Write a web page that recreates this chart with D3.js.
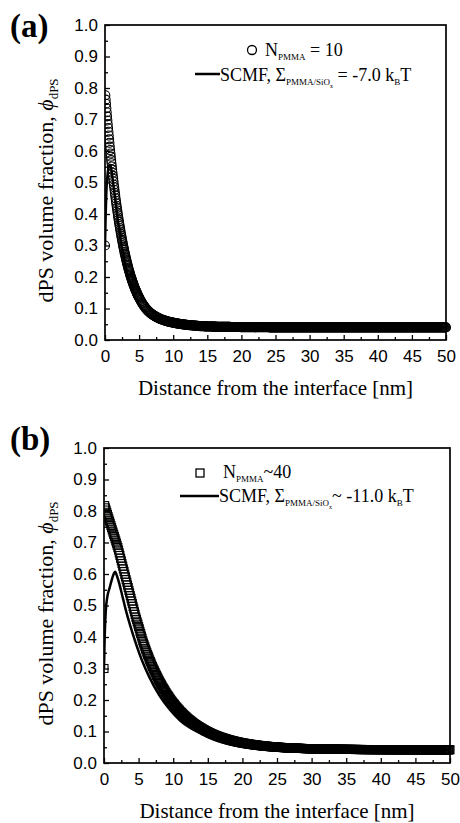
<!DOCTYPE html>
<html>
<head>
    <script type="text/javascript" src="https://d3js.org/d3.v7.min.js"></script>
    <style>
        body { margin: 0; background: #ffffff; }
        .tick text { font-family: "Liberation Sans", Arial, sans-serif; font-size: 17px; fill: #000; }
        .serif { font-family: "Liberation Serif", "Times New Roman", serif; fill: #000; }
    </style>
</head>
<body>
    <svg width="460" height="823"></svg>

    <script>
        // axis ticks shared by both panels
        const xMajor = [0, 5, 10, 15, 20, 25, 30, 35, 40, 45, 50];
        const xMinor = [2.5, 7.5, 12.5, 17.5, 22.5, 27.5, 32.5, 37.5, 42.5, 47.5];
        const yMajor = [0, 0.1, 0.2, 0.3, 0.4, 0.5, 0.6, 0.7, 0.8, 0.9, 1.0];
        const yMinor = [0.05, 0.15, 0.25, 0.35, 0.45, 0.55, 0.65, 0.75, 0.85, 0.95];

        // (a) circles, N_PMMA = 10
        // x = 0 .. 5 nm, every 0.05 nm
        const aCirc1 = [0.300,0.777,0.763,0.750,0.736,0.723,0.710,0.697,0.685,0.673,
            0.661,0.649,0.637,0.626,0.614,0.603,0.592,0.582,0.571,0.561,
            0.551,0.541,0.531,0.521,0.512,0.503,0.493,0.485,0.476,0.467,
            0.459,0.450,0.442,0.434,0.426,0.419,0.411,0.404,0.396,0.389,
            0.382,0.375,0.368,0.362,0.355,0.349,0.342,0.336,0.330,0.324,
            0.318,0.313,0.307,0.301,0.296,0.291,0.286,0.280,0.275,0.271,
            0.266,0.261,0.256,0.252,0.247,0.243,0.239,0.235,0.230,0.226,
            0.222,0.219,0.215,0.211,0.207,0.204,0.200,0.197,0.194,0.190,
            0.187,0.184,0.181,0.178,0.175,0.172,0.169,0.166,0.163,0.161,
            0.158,0.156,0.153,0.151,0.148,0.146,0.143,0.141,0.139,0.137,0.135];
        // x = 5.1 .. 15 nm, every 0.1 nm
        const aCirc2 = [0.131,0.127,0.123,0.119,0.116,0.112,0.109,0.106,0.103,0.100,
            0.098,0.095,0.093,0.091,0.089,0.087,0.085,0.083,0.082,0.080,
            0.079,0.077,0.076,0.075,0.074,0.072,0.071,0.070,0.069,0.068,
            0.067,0.066,0.065,0.0645,0.064,0.063,0.062,0.0615,0.061,0.060,
            0.0594,0.0589,0.0583,0.0578,0.0573,0.0568,0.0564,0.0559,0.0554,0.0550,
            0.0545,0.0541,0.0537,0.0533,0.0528,0.0525,0.0521,0.0517,0.0514,0.0510,
            0.0507,0.0503,0.0500,0.0497,0.0494,0.0491,0.0488,0.0485,0.0483,0.0480,
            0.0478,0.0475,0.0473,0.0471,0.0469,0.0467,0.0465,0.0464,0.0462,0.0460,
            0.0458,0.0456,0.0454,0.0452,0.0450,0.0448,0.0446,0.0444,0.0442,0.0440,
            0.0439,0.0438,0.0437,0.0436,0.0435,0.0434,0.0433,0.0432,0.0431,0.0430];
        // x = 15.1 .. 50 nm, every 0.1 nm
        const aCirc3 = [0.0429,0.0429,0.0428,0.0428,0.0427,0.0427,0.0426,0.0426,0.0425,0.0425,
            0.0424,0.0424,0.0423,0.0423,0.0422,0.0422,0.0421,0.0421,0.0420,0.0420,
            0.0420,0.0419,0.0419,0.0419,0.0418,0.0418,0.0418,0.0417,0.0417,0.0417,
            0.0416,0.0416,0.0416,0.0415,0.0415,0.0415,0.0414,0.0414,0.0414,0.0413,
            0.0413,0.0413,0.0412,0.0412,0.0412,0.0411,0.0411,0.0411,0.0410,0.0410,
            0.041,0.041,0.041,0.041,0.041,0.041,0.041,0.041,0.041,0.041,
            0.041,0.041,0.041,0.041,0.041,0.041,0.041,0.041,0.041,0.041,
            0.0405,0.0405,0.0405,0.0405,0.0405,0.0405,0.0405,0.0405,0.0405,0.0405,
            0.0405,0.0405,0.0405,0.0405,0.0405,0.0405,0.0405,0.0405,0.0405,0.0405,
            0.04,0.04,0.04,0.04,0.04,0.04,0.04,0.04,0.04,0.04,
            0.04,0.04,0.04,0.04,0.04,0.04,0.04,0.04,0.04,0.04,
            0.04,0.04,0.04,0.04,0.04,0.04,0.04,0.04,0.04,0.04,
            0.04,0.04,0.04,0.04,0.04,0.04,0.04,0.04,0.04,0.04,
            0.04,0.04,0.04,0.04,0.04,0.04,0.04,0.04,0.04,0.04,
            0.04,0.04,0.04,0.04,0.04,0.04,0.04,0.04,0.04,0.04,
            0.04,0.04,0.04,0.04,0.04,0.04,0.04,0.04,0.04,0.04,
            0.04,0.04,0.04,0.04,0.04,0.04,0.04,0.04,0.04,0.04,
            0.04,0.04,0.04,0.04,0.04,0.04,0.04,0.04,0.04,0.04,
            0.04,0.04,0.04,0.04,0.04,0.04,0.04,0.04,0.04,0.04,
            0.04,0.04,0.04,0.04,0.04,0.04,0.04,0.04,0.04,0.04,
            0.04,0.04,0.04,0.04,0.04,0.04,0.04,0.04,0.04,0.04,
            0.04,0.04,0.04,0.04,0.04,0.04,0.04,0.04,0.04,0.04,
            0.04,0.04,0.04,0.04,0.04,0.04,0.04,0.04,0.04,0.04,
            0.04,0.04,0.04,0.04,0.04,0.04,0.04,0.04,0.04,0.04,
            0.04,0.04,0.04,0.04,0.04,0.04,0.04,0.04,0.04,0.04,
            0.04,0.04,0.04,0.04,0.04,0.04,0.04,0.04,0.04,0.04,
            0.04,0.04,0.04,0.04,0.04,0.04,0.04,0.04,0.04,0.04,
            0.04,0.04,0.04,0.04,0.04,0.04,0.04,0.04,0.04,0.04,
            0.04,0.04,0.04,0.04,0.04,0.04,0.04,0.04,0.04,0.04,
            0.04,0.04,0.04,0.04,0.04,0.04,0.04,0.04,0.04,0.04,
            0.04,0.04,0.04,0.04,0.04,0.04,0.04,0.04,0.04,0.04,
            0.04,0.04,0.04,0.04,0.04,0.04,0.04,0.04,0.04,0.04,
            0.04,0.04,0.04,0.04,0.04,0.04,0.04,0.04,0.04,0.04,
            0.04,0.04,0.04,0.04,0.04,0.04,0.04,0.04,0.04,0.04,
            0.04,0.04,0.04,0.04,0.04,0.04,0.04,0.04,0.04,0.04];

        // (a) SCMF line
        const aLineX = [0, 0.1, 0.2, 0.35, 0.5, 0.73, 0.9, 1.1, 1.3, 1.6, 2.0, 2.5, 3.0, 3.5, 4.0, 5.0, 6.0, 7.0, 8.0, 10, 12, 15, 20, 30, 50];
        const aLineY = [0.30, 0.40, 0.47, 0.52, 0.545, 0.556, 0.545, 0.515, 0.48, 0.43, 0.36, 0.29, 0.235, 0.19, 0.155, 0.11, 0.083, 0.066, 0.056, 0.047, 0.043, 0.041, 0.040, 0.040, 0.040];

        // (b) squares, N_PMMA ~ 40
        // x = 0 .. 20 nm, every 0.1 nm
        const bSq1 = [0.300,0.817,0.810,0.803,0.796,0.789,0.782,0.775,0.768,0.761,
            0.754,0.747,0.740,0.733,0.726,0.719,0.712,0.705,0.698,0.691,
            0.684,0.676,0.667,0.659,0.650,0.642,0.633,0.625,0.616,0.608,
            0.599,0.591,0.582,0.574,0.565,0.557,0.548,0.540,0.531,0.523,
            0.514,0.506,0.497,0.489,0.480,0.472,0.463,0.456,0.448,0.441,
            0.433,0.426,0.418,0.411,0.403,0.396,0.388,0.381,0.375,0.369,
            0.362,0.356,0.350,0.344,0.339,0.333,0.327,0.322,0.317,0.311,
            0.306,0.301,0.296,0.292,0.287,0.282,0.278,0.273,0.269,0.264,
            0.260,0.256,0.252,0.248,0.244,0.240,0.236,0.233,0.229,0.225,
            0.222,0.218,0.215,0.212,0.209,0.205,0.202,0.199,0.196,0.193,
            0.190,0.188,0.185,0.182,0.179,0.177,0.174,0.172,0.169,0.167,
            0.164,0.162,0.160,0.158,0.155,0.153,0.151,0.149,0.147,0.145,
            0.143,0.141,0.139,0.137,0.136,0.134,0.132,0.130,0.129,0.127,
            0.125,0.124,0.122,0.121,0.119,0.118,0.116,0.115,0.114,0.112,
            0.111,0.110,0.108,0.107,0.106,0.105,0.103,0.102,0.101,0.100,
            0.099,0.0976,0.0966,0.0955,0.0945,0.0935,0.0925,0.0916,0.0906,0.0897,
            0.0888,0.0879,0.0870,0.0862,0.0853,0.0845,0.0837,0.0829,0.0821,0.0814,
            0.0806,0.0799,0.0792,0.0785,0.0778,0.0771,0.0764,0.0758,0.0751,0.0745,
            0.0739,0.0733,0.0727,0.0721,0.0715,0.0710,0.0704,0.0699,0.0693,0.0688,
            0.0683,0.0678,0.0673,0.0668,0.0664,0.0659,0.0654,0.0650,0.0646,0.0641,0.0637];
        // x = 20.1 .. 50 nm, every 0.1 nm
        const bSq2 = [0.0633,0.0629,0.0626,0.0622,0.0618,0.0614,0.0610,0.0607,0.0603,0.0599,
            0.0596,0.0593,0.0590,0.0587,0.0584,0.0580,0.0577,0.0574,0.0571,0.0568,
            0.0565,0.0563,0.0560,0.0558,0.0555,0.0552,0.0550,0.0547,0.0545,0.0542,
            0.0540,0.0538,0.0536,0.0534,0.0532,0.0529,0.0527,0.0525,0.0523,0.0521,
            0.0519,0.0517,0.0516,0.0514,0.0512,0.0510,0.0508,0.0507,0.0505,0.0503,
            0.0502,0.0500,0.0499,0.0497,0.0496,0.0494,0.0493,0.0491,0.0490,0.0488,
            0.0487,0.0486,0.0484,0.0483,0.0482,0.0481,0.0480,0.0478,0.0477,0.0476,
            0.0475,0.0474,0.0473,0.0472,0.0472,0.0471,0.0470,0.0469,0.0468,0.0467,
            0.0466,0.0465,0.0464,0.0463,0.0463,0.0462,0.0461,0.0460,0.0459,0.0458,
            0.0457,0.0457,0.0456,0.0456,0.0455,0.0454,0.0454,0.0453,0.0453,0.0452,
            0.0451,0.0451,0.0450,0.0450,0.0449,0.0449,0.0448,0.0447,0.0447,0.0446,
            0.0446,0.0445,0.0445,0.0445,0.0444,0.0444,0.0443,0.0443,0.0442,0.0442,
            0.0442,0.0441,0.0441,0.0440,0.0440,0.0440,0.0439,0.0439,0.0438,0.0438,
            0.0438,0.0437,0.0437,0.0437,0.0436,0.0436,0.0436,0.0435,0.0435,0.0435,
            0.0435,0.0434,0.0434,0.0434,0.0433,0.0433,0.0433,0.0433,0.0432,0.0432,
            0.0432,0.0432,0.0431,0.0431,0.0431,0.0431,0.0431,0.0430,0.0430,0.0430,
            0.0430,0.0430,0.0429,0.0429,0.0429,0.0429,0.0429,0.0428,0.0428,0.0428,
            0.0428,0.0428,0.0428,0.0428,0.0427,0.0427,0.0427,0.0427,0.0427,0.0427,
            0.0427,0.0427,0.0427,0.0426,0.0426,0.0426,0.0426,0.0426,0.0426,0.0426,
            0.0426,0.0426,0.0426,0.0425,0.0425,0.0425,0.0425,0.0425,0.0425,0.0425,
            0.0425,0.0425,0.0425,0.0425,0.0425,0.0424,0.0424,0.0424,0.0424,0.0424,
            0.0424,0.0424,0.0424,0.0424,0.0424,0.0423,0.0423,0.0423,0.0423,0.0423,
            0.0423,0.0423,0.0423,0.0423,0.0423,0.0423,0.0423,0.0423,0.0423,0.0423,
            0.0423,0.0423,0.0423,0.0423,0.0423,0.0422,0.0422,0.0422,0.0422,0.0422,
            0.0422,0.0422,0.0422,0.0422,0.0422,0.0422,0.0422,0.0422,0.0422,0.0422,
            0.0422,0.0422,0.0422,0.0422,0.0422,0.0422,0.0422,0.0422,0.0422,0.0422,
            0.0421,0.0421,0.0421,0.0421,0.0421,0.0421,0.0421,0.0421,0.0421,0.0421,
            0.0421,0.0421,0.0421,0.0421,0.0421,0.0421,0.0421,0.0421,0.0421,0.0421,
            0.0421,0.0421,0.0421,0.0421,0.0421,0.0421,0.0421,0.0421,0.0421,0.0421,
            0.0421,0.0421,0.0421,0.0421,0.0421,0.0421,0.0421,0.0421,0.0421,0.0421];

        // (b) SCMF line
        const bLineX = [0, 0.1, 0.25, 0.5, 0.8, 1.1, 1.4, 1.6, 1.9, 2.2, 2.6, 3.1, 3.8, 4.6, 5.5, 6.5, 8.0, 9.5, 11, 13, 15, 17.5, 20, 25, 30, 40, 50];
        const bLineY = [0.30, 0.40, 0.48, 0.53, 0.555, 0.58, 0.60, 0.607, 0.592, 0.57, 0.535, 0.49, 0.435, 0.38, 0.325, 0.275, 0.215, 0.170, 0.135, 0.105, 0.086, 0.070, 0.060, 0.049, 0.044, 0.042, 0.042];

        // turn the sampled segments into [x, y] points
        function seg(values, x0, step) {
            return values.map((v, i) => [x0 + i * step, v]);
        }
        const aCircles = seg(aCirc1, 0, 0.05).concat(seg(aCirc2, 5.1, 0.1), seg(aCirc3, 15.1, 0.1));
        const bSquares = seg(bSq1, 0, 0.1).concat(seg(bSq2, 20.1, 0.1));

        const svg = d3.select("svg");

        function drawPanel(p) {
            const g = svg.append("g");
            const x = d3.scaleLinear().domain([0, 50]).range([p.left, p.right]);
            const y = d3.scaleLinear().domain([0, 1]).range([p.bottom, p.top]);

            // clip the markers at the left axis only
            g.append("clipPath").attr("id", p.id + "clip")
                .append("rect")
                .attr("x", p.left).attr("y", 0)
                .attr("width", 460 - p.left).attr("height", 823);

            const data = g.append("g").attr("clip-path", `url(#${p.id}clip)`);

            if (p.marker === "circle") {
                data.selectAll("circle")
                    .data(p.points)
                    .enter()
                    .append("circle")
                    .attr("cx", d => x(d[0]))
                    .attr("cy", d => y(d[1]))
                    .attr("r", 4.5)
                    .attr("fill", "none")
                    .attr("stroke", "#000")
                    .attr("stroke-width", 1.1);
            } else {
                data.selectAll("rect")
                    .data(p.points)
                    .enter()
                    .append("rect")
                    .attr("x", d => x(d[0]) - 4)
                    .attr("y", d => y(d[1]) - 4)
                    .attr("width", 8)
                    .attr("height", 8)
                    .attr("fill", "none")
                    .attr("stroke", "#000")
                    .attr("stroke-width", 1.1);
            }

            const line = d3.line()
                .x(d => x(d[0]))
                .y(d => y(d[1]))
                .curve(d3.curveMonotoneX);
            data.append("path")
                .datum(p.lineX.map((v, i) => [v, p.lineY[i]]))
                .attr("d", line)
                .attr("fill", "none")
                .attr("stroke", "#000")
                .attr("stroke-width", 2.5);

            // axes, ticks pointing inward
            g.append("g")
                .attr("transform", `translate(0,${p.bottom})`)
                .call(d3.axisBottom(x).tickValues(xMajor).tickSize(-5).tickSizeOuter(0).tickPadding(10))
                .call(a => a.select(".domain").remove());
            g.append("g")
                .attr("transform", `translate(0,${p.bottom})`)
                .call(d3.axisBottom(x).tickValues(xMinor).tickSize(-3).tickSizeOuter(0).tickFormat(""))
                .call(a => a.select(".domain").remove());
            g.append("g")
                .attr("transform", `translate(${p.left},0)`)
                .call(d3.axisLeft(y).tickValues(yMajor).tickSize(-5).tickSizeOuter(0).tickPadding(7).tickFormat(d3.format(".1f")))
                .call(a => a.select(".domain").remove());
            g.append("g")
                .attr("transform", `translate(${p.left},0)`)
                .call(d3.axisLeft(y).tickValues(yMinor).tickSize(-3).tickSizeOuter(0).tickFormat(""))
                .call(a => a.select(".domain").remove());
            g.selectAll(".tick line").attr("stroke-width", 1.3);

            // frame
            g.append("rect")
                .attr("x", p.left).attr("y", p.top)
                .attr("width", p.right - p.left).attr("height", p.bottom - p.top)
                .attr("fill", "none").attr("stroke", "#000").attr("stroke-width", 1.7);

            // panel letter
            g.append("text").attr("class", "serif")
                .attr("x", 10).attr("y", p.letterY)
                .attr("font-size", 33).attr("font-weight", "bold")
                .text(p.letter);

            // x title
            g.append("text").attr("class", "serif")
                .attr("x", (p.left + p.right) / 2).attr("y", p.bottom + 55)
                .attr("text-anchor", "middle").attr("font-size", 21)
                .text("Distance from the interface [nm]");

            // y title
            const yt = g.append("text").attr("class", "serif")
                .attr("transform", `translate(53,${(p.top + p.bottom) / 2 + 8}) rotate(-90)`)
                .attr("text-anchor", "middle").attr("font-size", 22);
            yt.append("tspan").text("dPS volume fraction, ");
            yt.append("tspan").attr("font-style", "italic").text("\u03D5");
            yt.append("tspan").attr("font-size", 13).attr("dy", 5).text("dPS");

            // legend
            const lg = p.legend;
            if (p.marker === "circle") {
                g.append("circle").attr("cx", lg.mx).attr("cy", lg.my).attr("r", 4.5)
                    .attr("fill", "none").attr("stroke", "#000").attr("stroke-width", 1.3);
            } else {
                g.append("rect").attr("x", lg.mx - 4).attr("y", lg.my - 4).attr("width", 8).attr("height", 8)
                    .attr("fill", "none").attr("stroke", "#000").attr("stroke-width", 1.3);
            }
            const t1 = g.append("text").attr("class", "serif")
                .attr("x", lg.t1x).attr("y", lg.t1y).attr("font-size", 18);
            t1.append("tspan").text("N");
            t1.append("tspan").attr("font-size", 9).attr("dy", 4).text("PMMA");
            t1.append("tspan").attr("dy", -4).text(lg.nText);

            g.append("line")
                .attr("x1", lg.lx1).attr("x2", lg.lx2)
                .attr("y1", lg.ly).attr("y2", lg.ly)
                .attr("stroke", "#000").attr("stroke-width", 2.5);
            const t2 = g.append("text").attr("class", "serif")
                .attr("x", lg.lx2).attr("y", lg.t2y).attr("font-size", 18);
            t2.append("tspan").text("SCMF, \u03A3");
            t2.append("tspan").attr("font-size", 9).attr("dy", 4).text("PMMA/SiO");
            t2.append("tspan").attr("font-size", 6).attr("dy", 3).text("x");
            t2.append("tspan").attr("dy", -7).text(lg.sText);
            t2.append("tspan").text(" k");
            t2.append("tspan").attr("font-size", 9).attr("dy", 4).text("B");
            t2.append("tspan").attr("dy", -4).text("T");
        }

        drawPanel({
            id: "a", letter: "(a)", letterY: 37,
            left: 105, right: 446, top: 25, bottom: 340,
            marker: "circle", points: aCircles, lineX: aLineX, lineY: aLineY,
            legend: { mx: 252, my: 50, t1x: 265, t1y: 56, nText: " = 10",
                      lx1: 195, lx2: 220, ly: 74, t2y: 81, sText: " = -7.0" }
        });

        drawPanel({
            id: "b", letter: "(b)", letterY: 450,
            left: 104, right: 450, top: 448, bottom: 763,
            marker: "square", points: bSquares, lineX: bLineX, lineY: bLineY,
            legend: { mx: 200, my: 473, t1x: 223, t1y: 478, nText: "~40",
                      lx1: 180, lx2: 219, ly: 496, t2y: 502, sText: "~ -11.0" }
        });
    </script>
</body>
</html>
